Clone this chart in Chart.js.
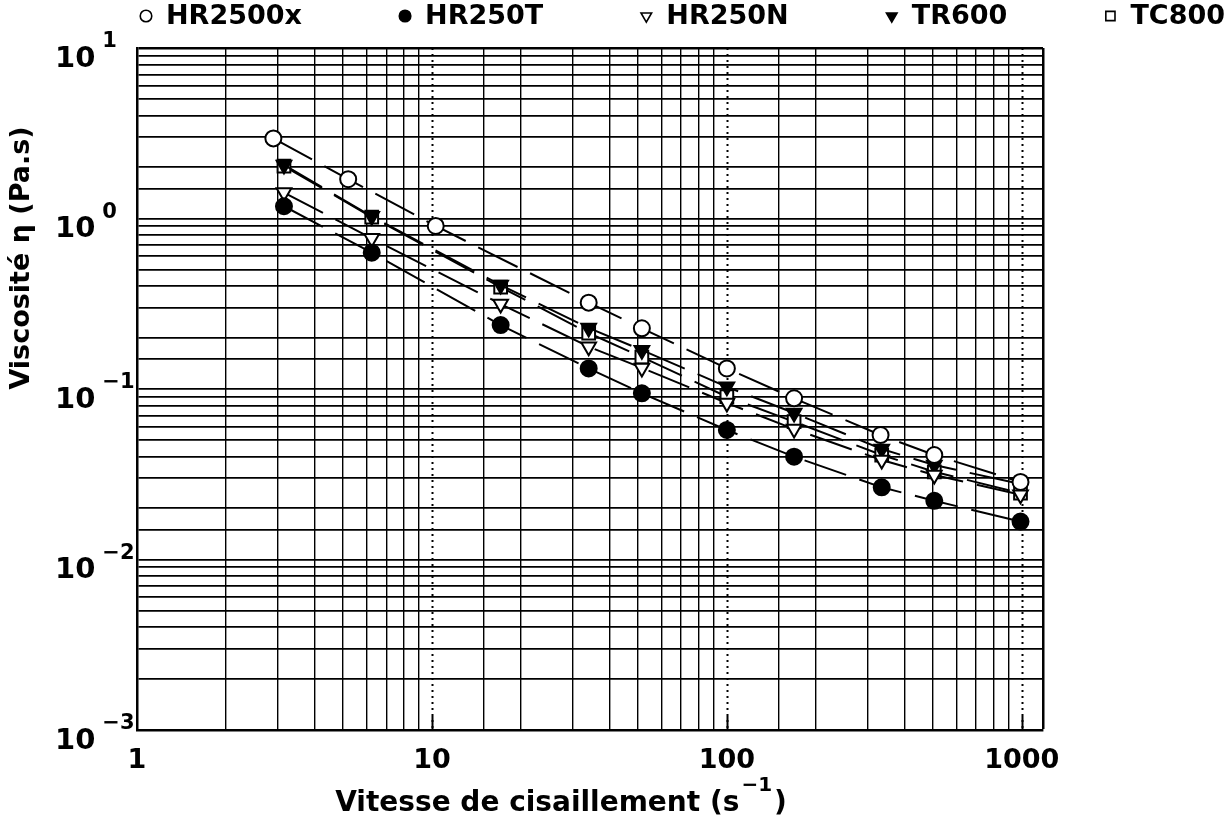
<!DOCTYPE html>
<html>
<head>
<meta charset="utf-8">
<script src="https://cdn.jsdelivr.net/npm/chart.js@4.4.0/dist/chart.umd.min.js"></script>
<style>
  html, body { margin: 0; background: #fff; }
  canvas { display: block; }
</style>
</head>
<body>
<canvas id="viscoChart" width="1227" height="831"></canvas>
<script>
// --- data (shear rate in s^-1, viscosity in Pa.s) ---
const seriesNames = ['HR2500x', 'HR250T', 'HR250N', 'TR600', 'TC800'];
const shearHR2500x = [2.9, 5.2, 10.3, 34, 51.5, 100, 169, 332, 505, 990];
const shearOthers = [3.15, 6.25, 17.1, 34, 51.5, 100, 169, 335, 505, 990];
const viscHR2500x = [2.95, 1.70, 0.904, 0.321, 0.227, 0.132, 0.0882, 0.0537, 0.0410, 0.0285];
const viscHR250T = [1.18, 0.630, 0.237, 0.132, 0.0944, 0.0575, 0.0401, 0.0265, 0.0221, 0.0167];
const viscHR250N = [1.42, 0.765, 0.315, 0.177, 0.133, 0.0828, 0.0582, 0.0383, 0.0313, 0.0240];
const viscTR600 = [2.06, 1.03, 0.407, 0.228, 0.169, 0.103, 0.0723, 0.0445, 0.0358, 0.0277];
const viscTC800 = [2.03, 1.02, 0.396, 0.213, 0.154, 0.0901, 0.0643, 0.0410, 0.0327, 0.0245];

// axis ticks
const xDecades = [1, 10, 100, 1000];
const yExponents = [1, 0, -1, -2, -3];
const xTitle = 'Vitesse de cisaillement (s';
const xTitleSup = '\u22121';
const yTitle = 'Viscosit\u00e9 \u03b7 (Pa.s)';

const FONT = '"DejaVu Sans", sans-serif';
const isDecade = v => Math.abs(Math.log10(v) - Math.round(Math.log10(v))) < 1e-9;
const toPoints = (xs, ys) => xs.map((x, i) => ({ x, y: ys[i] }));

function makeSeries(label, xs, ys, style) {
    return Object.assign({
        label,
        data: toPoints(xs, ys),
        showLine: true,
        borderColor: '#000',
        borderWidth: 2,
        borderDash: [44, 14],
        pointBorderColor: '#000',
        pointBorderWidth: 2,
        tension: 0,
        fill: false,
    }, style);
}

const datasets = [
    makeSeries(seriesNames[0], shearHR2500x, viscHR2500x, { pointStyle: 'circle', pointRadius: 8, pointBackgroundColor: '#fff' }),
    makeSeries(seriesNames[1], shearOthers, viscHR250T, { pointStyle: 'circle', pointRadius: 8, pointBackgroundColor: '#000' }),
    makeSeries(seriesNames[2], shearOthers, viscHR250N, { pointStyle: 'triangle', pointRotation: 180, pointRadius: 8.5, pointBackgroundColor: '#fff' }),
    makeSeries(seriesNames[3], shearOthers, viscTR600, { pointStyle: 'triangle', pointRotation: 180, pointRadius: 8.5, pointBackgroundColor: '#000' }),
    makeSeries(seriesNames[4], shearOthers, viscTC800, { pointStyle: 'rect', pointRadius: 9, pointBackgroundColor: '#fff' }),
];

// dotted decade verticals, drawn over the grid
const decadeLines = {
    id: 'decadeLines',
    beforeDatasetsDraw(chart) {
        const { ctx, chartArea, scales: { x } } = chart;
        ctx.save();
        ctx.strokeStyle = '#000';
        xDecades.slice(1).forEach(v => {
            const px = Math.round(x.getPixelForValue(v)) + 0.5;
            ctx.lineWidth = 2;
            ctx.setLineDash([2, 4]);
            ctx.beginPath();
            ctx.moveTo(px, chartArea.top);
            ctx.lineTo(px, chartArea.bottom);
            ctx.stroke();
            ctx.setLineDash([]);
            ctx.beginPath();
            ctx.moveTo(px, chartArea.bottom - 14);
            ctx.lineTo(px, chartArea.bottom);
            ctx.stroke();
        });
        ctx.restore();
    }
};

// y tick labels as 10^n, axis titles, legend row
const textLayer = {
    id: 'textLayer',
    afterDraw(chart) {
        const { ctx, scales: { y } } = chart;
        ctx.save();
        ctx.fillStyle = '#000';

        // y tick labels
        yExponents.forEach(e => {
            const py = y.getPixelForValue(Math.pow(10, e));
            ctx.font = 'bold 29px ' + FONT;
            ctx.textAlign = 'left';
            ctx.textBaseline = 'middle';
            ctx.fillText('10', 55, py + 11);
            const w = ctx.measureText('10').width;
            ctx.font = 'bold 21px ' + FONT;
            ctx.fillText(e < 0 ? '\u2212' + (-e) : String(e), 55 + w + 7, py - 6);
        });

        // x title with superscript
        ctx.font = 'bold 28px ' + FONT;
        const w1 = ctx.measureText(xTitle).width;
        ctx.font = 'bold 20px ' + FONT;
        const w2 = ctx.measureText(xTitleSup).width;
        ctx.font = 'bold 28px ' + FONT;
        const w3 = ctx.measureText(')').width;
        let tx = 561 - (w1 + w2 + w3 + 4) / 2;
        ctx.textAlign = 'left';
        ctx.textBaseline = 'middle';
        ctx.fillText(xTitle, tx, 804);
        ctx.font = 'bold 20px ' + FONT;
        ctx.fillText(xTitleSup, tx + w1 + 2, 786);
        ctx.font = 'bold 28px ' + FONT;
        ctx.fillText(')', tx + w1 + w2 + 4, 804);

        // y title
        ctx.save();
        ctx.translate(22, 258);
        ctx.rotate(-Math.PI / 2);
        ctx.textAlign = 'center';
        ctx.font = 'bold 27px ' + FONT;
        ctx.fillText(yTitle, 0, 0);
        ctx.restore();

        // legend across the top
        const startX = 146, endX = 1225, markGap = 20, ly = 16;
        ctx.font = 'bold 27px ' + FONT;
        const widths = chart.data.datasets.map(d => ctx.measureText(d.label).width);
        const used = widths.reduce((a, b) => a + b + markGap, 0);
        const gap = (endX - startX - used) / (widths.length - 1);
        let lx = startX;
        chart.data.datasets.forEach((d, i) => {
            ctx.fillStyle = d.pointBackgroundColor;
            ctx.strokeStyle = '#000';
            ctx.lineWidth = 1.6;
            Chart.helpers.drawPoint(ctx, {
                pointStyle: d.pointStyle,
                rotation: d.pointRotation || 0,
                radius: d.pointRadius * 0.72,
                borderWidth: 1.6
            }, lx, ly);
            ctx.fillStyle = '#000';
            ctx.textAlign = 'left';
            ctx.textBaseline = 'middle';
            ctx.fillText(d.label, lx + markGap, ly + 1);
            lx += markGap + widths[i] + gap;
        });
        ctx.restore();
    }
};

new Chart(document.getElementById('viscoChart'), {
    type: 'line',
    data: { datasets },
    options: {
        responsive: false,
        animation: false,
        devicePixelRatio: 1,
        layout: { padding: { top: 48, right: 184, bottom: 0, left: 0 } },
        plugins: { legend: { display: false }, tooltip: { enabled: false } },
        scales: {
            x: {
                type: 'logarithmic',
                min: 1,
                max: 1180,
                afterFit: s => { s.height = 101; },
                border: { color: '#000', width: 2.5 },
                grid: {
                    drawTicks: false,
                    color: c => (c.tick && isDecade(c.tick.value) && c.tick.value > 1) ? 'rgba(0,0,0,0)' : '#000',
                    lineWidth: c => (c.tick && c.tick.value >= 1180) ? 2.5 : 1.4,
                },
                ticks: {
                    autoSkip: false,
                    maxRotation: 0,
                    padding: 15,
                    color: '#000',
                    font: { family: FONT, size: 27, weight: 'bold' },
                    callback: v => isDecade(v) ? String(Math.round(v)) : '',
                },
            },
            y: {
                type: 'logarithmic',
                min: 0.001,
                max: 10,
                afterFit: s => { s.width = 137; },
                border: { color: '#000', width: 2.5 },
                grid: {
                    drawTicks: false,
                    color: '#000',
                    lineWidth: c => (c.tick && c.tick.value >= 10) ? 2.5 : 1.8,
                },
                ticks: { display: false },
            },
        },
    },
    plugins: [decadeLines, textLayer],
});
</script>
</body>
</html>
